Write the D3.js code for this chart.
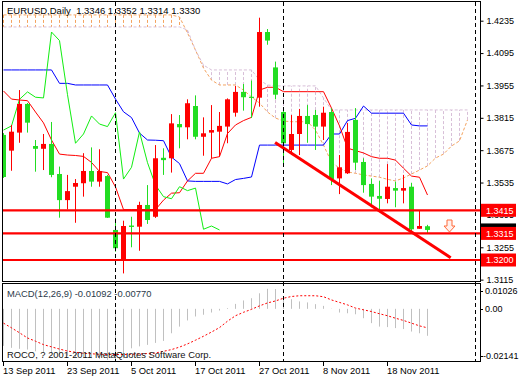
<!DOCTYPE html>
<html><head><meta charset="utf-8">
<script src="https://cdn.jsdelivr.net/npm/d3@7"></script>
<style>
body{margin:0;background:#fff}
svg{display:block}
text{font-family:"Liberation Sans",Arial,sans-serif;font-size:9px;fill:#000}
</style>
</head><body>
<svg id="c" width="520" height="380"></svg>
<script>
// ---------------- DATA ----------------
const title = "EURUSD,Daily";
const headerOHLC = [1.3346, 1.3352, 1.3314, 1.3330];
const opens  = [1.3741,1.3673,1.3751,1.3875,1.3693,1.3681,1.3702,1.3572,1.3459,1.3517,
                1.3532,1.3585,1.3539,1.3563,1.3330,1.3203,1.3349,1.3344,1.3438,1.3387,
                1.3642,1.3640,1.3788,1.3774,1.3866,1.3733,1.3751,1.3755,1.3777,1.3837,
                1.3927,1.3906,1.3902,1.4186,1.4033,1.3840,1.3676,1.3745,1.3823,1.3827,
                1.3777,1.3840,1.3553,1.3575,1.3806,1.3624,1.3529,1.3477,1.3464,1.3511,
                1.3500,1.3517,1.3335,1.3346];
const highs  = [1.3749,1.3784,1.3935,1.3879,1.3719,1.3745,1.3797,1.3604,1.3568,1.3550,
                1.3662,1.3687,1.3679,1.3568,1.3380,1.3370,1.3387,1.3452,1.3524,1.3697,
                1.3683,1.3831,1.3827,1.3895,1.3912,1.3817,1.3870,1.3840,1.3899,1.3953,
                1.3961,1.3976,1.4248,1.4199,1.4058,1.3854,1.3827,1.3853,1.3870,1.3849,
                1.3863,1.3856,1.3654,1.3793,1.3857,1.3640,1.3553,1.3543,1.3615,1.3539,
                1.3568,1.3534,1.3416,1.3352];
const lows   = [1.3555,1.3586,1.3707,1.3751,1.3582,1.3589,1.3558,1.3383,1.3419,1.3361,
                1.3474,1.3517,1.3517,1.3382,1.3236,1.3142,1.3255,1.3240,1.3356,1.3382,
                1.3568,1.3578,1.3683,1.3722,1.3722,1.3651,1.3640,1.3647,1.3705,1.3820,
                1.3846,1.3814,1.3863,1.4131,1.3895,1.3604,1.3654,1.3654,1.3707,1.3676,
                1.3719,1.3524,1.3485,1.3572,1.3589,1.3491,1.3428,1.3416,1.3445,1.3428,
                1.3445,1.3318,1.3335,1.3314];
const closes = [1.3559,1.3755,1.3875,1.3794,1.3681,1.3702,1.3568,1.3459,1.3498,1.3533,
                1.3585,1.3539,1.3585,1.3383,1.3251,1.3347,1.3343,1.3438,1.3373,1.3640,
                1.3632,1.3791,1.3774,1.3878,1.3733,1.3748,1.3762,1.3780,1.3895,1.3927,
                1.3904,1.3901,1.4186,1.4149,1.3915,1.3705,1.3745,1.3823,1.3788,1.3777,
                1.3837,1.3550,1.3601,1.3754,1.3621,1.3524,1.3474,1.3465,1.3517,1.3500,
                1.3511,1.3333,1.3347,1.3330];
// Ichimoku
const tenkan = [1.3931,1.3896,1.3892,1.3889,1.3840,1.3793,1.3719,1.3658,1.3654,1.3652,
                1.3648,1.3622,1.3583,1.3578,1.3516,1.3418,1.3418,1.3418,1.3418,1.3418,
                1.3459,1.3489,1.3491,1.3542,1.3575,1.3575,1.3640,1.3647,1.3747,1.3784,
                1.3803,1.3817,1.3935,1.3947,1.3947,1.3928,1.3928,1.3928,1.3928,1.3928,
                1.3928,1.3857,1.3780,1.3684,1.3673,1.3663,1.3647,1.3640,1.3640,1.3632,
                1.3597,1.3563,1.3558,1.3481];
const kijun  = [1.4022,1.4022,1.4022,1.4022,1.4022,1.4022,1.4022,1.3964,1.3964,1.3957,
                1.3957,1.3957,1.3957,1.3957,1.3896,1.3841,1.3816,1.3749,1.3719,1.3718,
                1.3716,1.3645,1.3617,1.3542,1.3540,1.3540,1.3540,1.3540,1.3529,1.3548,
                1.3553,1.3559,1.3697,1.3697,1.3697,1.3697,1.3697,1.3697,1.3697,1.3697,
                1.3697,1.3745,1.3745,1.3803,1.3813,1.3866,1.3835,1.3835,1.3835,1.3835,
                1.3835,1.3784,1.3780,1.3780];
const chikou = [1.3762,1.3780,1.3895,1.3927,1.3904,1.3901,1.4186,1.4149,1.3915,1.3705,
                1.3745,1.3823,1.3788,1.3777,1.3837,1.3550,1.3601,1.3754,1.3621,1.3524,
                1.3474,1.3465,1.3517,1.3500,1.3511,1.3333,1.3347,1.3330];
const spanA  = [1.4260,1.4260,1.4260,1.4260,1.4260,1.4260,1.4260,1.4260,1.4260,1.4260,
                1.4260,1.4260,1.4260,1.4260,1.4260,1.4260,1.4260,1.4260,1.4260,1.4260,
                1.4260,1.4260,1.4251,1.4182,1.4108,1.4030,1.3978,1.3957,1.3957,1.3957,
                1.3935,1.3905,1.3879,1.3840,1.3814,1.3801,1.3798,1.3798,1.3798,1.3762,
                1.3697,1.3623,1.3597,1.3581,1.3575,1.3568,1.3563,1.3558,1.3549,1.3542,
                1.3555,1.3572,1.3589,1.3607,1.3641,1.3658,1.3693,1.3715,1.3806];
const spanB  = [1.4208,1.4208,1.4208,1.4208,1.4208,1.4208,1.4208,1.4208,1.4208,1.4208,
                1.4208,1.4208,1.4208,1.4208,1.4208,1.4208,1.4208,1.4208,1.4208,1.4208,
                1.4208,1.4208,1.4208,1.4195,1.4108,1.4043,1.4022,1.4022,1.4022,1.4022,
                1.4022,1.4022,1.3978,1.3957,1.3953,1.3953,1.3953,1.3953,1.3953,1.3953,
                1.3901,1.3849,1.3849,1.3849,1.3849,1.3849,1.3849,1.3849,1.3849,1.3849,
                1.3849,1.3849,1.3849,1.3849,1.3849,1.3849,1.3849,1.3849,1.3849];
// MACD(12,26,9)
const macdHist = [-0.0150,-0.0158,-0.0162,-0.0165,-0.0172,-0.0178,-0.0182,-0.0186,-0.0190,-0.0195,
                  -0.0198,-0.0200,-0.0203,-0.0207,-0.0214,-0.0200,-0.0160,-0.0152,-0.0146,-0.0138,
                  -0.0130,-0.0099,-0.0072,-0.0047,-0.0031,-0.0024,-0.0015,-0.0007,0.0003,0.0020,
                  0.0034,0.0043,0.0063,0.0081,0.0080,0.0050,0.0039,0.0030,0.0026,0.0019,
                  0.0012,0.0001,-0.0015,-0.0018,-0.0022,-0.0038,-0.0058,-0.0072,-0.0074,-0.0078,
                  -0.0082,-0.0092,-0.0099,-0.01092];
const macdSignal = [-0.0058,-0.0077,-0.0097,-0.0118,-0.0131,-0.0145,-0.0154,-0.0163,-0.0171,-0.0176,
                    -0.0180,-0.0182,-0.0184,-0.0185,-0.0185,-0.0185,-0.0184,-0.0183,-0.0181,-0.0179,
                    -0.0172,-0.0165,-0.0155,-0.0142,-0.0127,-0.0111,-0.0094,-0.0076,-0.0050,-0.0028,
                    -0.0014,-0.0002,0.0012,0.0024,0.0032,0.0043,0.0050,0.0053,0.0053,0.0053,
                    0.0049,0.0036,0.0026,0.0016,0.0003,-0.0004,-0.0011,-0.0020,-0.0028,-0.0038,
                    -0.0047,-0.0058,-0.0069,-0.0077];
const macdLabel = "MACD(12,26,9) -0.01092 -0.00770";
const macdScaleMax = 0.01026, macdScaleMin = -0.02141;
const macdTickLabels = ["0.01026", "0.00", "-0.02141"];
const macdTickValues = [0.01026, 0, -0.02141];
// axes
const priceTicks = [1.4235,1.4095,1.3955,1.3815,1.3675,1.3535,1.3395,1.3255,1.3115];
const dateLabels = ["13 Sep 2011","23 Sep 2011","5 Oct 2011","17 Oct 2011","27 Oct 2011","8 Nov 2011","18 Nov 2011"];
const dateLabelIdx = [0,8,16,24,32,40,48];
const separatorIdx = [14,35,59];
// objects
const levels = [1.3415, 1.3315, 1.3200];
const levelLabels = ["1.3415","1.3315","1.3200"];
const trendLine = [{i:33.95, p:1.3708}, {i:55.9, p:1.3210}];
const sellArrow = {i:55.75, p:1.3347};
const copyright = "ROCO, ? 2001-2011 MetaQuotes Software Corp.";

// ---------------- DRAW ----------------
const svg = d3.select("#c");
const x = d3.scaleLinear().domain([0,53]).range([3.5,427.5]);
const y = d3.scaleLinear().domain([1.3200,1.4235]).range([260,20.7]);
const ym = d3.scaleLinear().domain([macdScaleMin, macdScaleMax]).range([361.7,283.5]);

const defs = svg.append("defs");
defs.append("clipPath").attr("id","cm").append("rect").attr("x",2).attr("y",2).attr("width",478).attr("height",279);
defs.append("clipPath").attr("id","cd").append("rect").attr("x",2).attr("y",284).attr("width",478).attr("height",77.5);

const gm = svg.append("g").attr("clip-path","url(#cm)");

// cloud hatch
gm.append("g").selectAll("line").data(spanA).join("line")
  .attr("x1",(d,i)=>x(i)).attr("x2",(d,i)=>x(i))
  .attr("y1",d=>y(d)).attr("y2",(d,i)=>y(spanB[i]))
  .attr("stroke",(d,i)=> d>spanB[i] ? "#f4a460" : "#d8bfd8")
  .attr("stroke-width",1).attr("stroke-dasharray","3,2");

const line = d3.line().x((d,i)=>x(i)).y(d=>y(d));
gm.append("path").datum(spanA).attr("d",line).attr("fill","none")
  .attr("stroke","#f4a460").attr("stroke-dasharray","3,2");
gm.append("path").datum(spanB).attr("d",line).attr("fill","none")
  .attr("stroke","#d8bfd8").attr("stroke-dasharray","3,2");
gm.append("path").datum(kijun).attr("d",line).attr("fill","none").attr("stroke","#0000ff");
gm.append("path").datum(tenkan).attr("d",line).attr("fill","none").attr("stroke","#ff0000");
gm.append("path").datum(chikou).attr("d",line).attr("fill","none").attr("stroke","#11ee11");

// candles
const bull = "#ff0000", bear = "#22dd22";
const cg = gm.append("g");
cg.selectAll("line").data(closes).join("line")
  .attr("x1",(d,i)=>x(i)).attr("x2",(d,i)=>x(i))
  .attr("y1",(d,i)=>y(highs[i])).attr("y2",(d,i)=>y(lows[i]))
  .attr("stroke",(d,i)=> d>=opens[i]?bull:bear);
cg.selectAll("rect").data(closes).join("rect")
  .attr("x",(d,i)=>x(i)-2.5).attr("width",5)
  .attr("y",(d,i)=>y(Math.max(d,opens[i])))
  .attr("height",(d,i)=>Math.max(1,Math.abs(y(d)-y(opens[i]))))
  .attr("fill",(d,i)=> d>=opens[i]?bull:bear);

// levels
gm.append("g").selectAll("line").data(levels).join("line")
  .attr("x1",2).attr("x2",480).attr("y1",d=>y(d)).attr("y2",d=>y(d))
  .attr("stroke","#ff0000").attr("stroke-width",2.2);
// trendline
gm.append("line")
  .attr("x1",x(trendLine[0].i)).attr("y1",y(trendLine[0].p))
  .attr("x2",x(trendLine[1].i)).attr("y2",y(trendLine[1].p))
  .attr("stroke","#ff0000").attr("stroke-width",3);
// sell arrow
const ax = x(sellArrow.i), ay = y(sellArrow.p);
gm.append("path")
  .attr("d",`M${ax-2.5},${ay-6}H${ax+2.5}V${ay}H${ax+5.5}L${ax},${ay+6}L${ax-5.5},${ay}H${ax-2.5}Z`)
  .attr("fill","#fff0ec").attr("stroke","#ff6a3a").attr("stroke-width",1);

// MACD
const gd = svg.append("g").attr("clip-path","url(#cd)");
gd.selectAll("line").data(macdHist).join("line")
  .attr("x1",(d,i)=>x(i)).attr("x2",(d,i)=>x(i))
  .attr("y1",ym(0)).attr("y2",d=>ym(d))
  .attr("stroke","#c0c0c0").attr("stroke-width",1);
gd.append("path").datum(macdSignal)
  .attr("d",d3.line().x((d,i)=>x(i)).y(d=>ym(d)))
  .attr("fill","none").attr("stroke","#ff0000").attr("stroke-dasharray","2,2");

// separators
svg.append("g").selectAll("line").data(separatorIdx).join("line")
  .attr("x1",d=>x(d)).attr("x2",d=>x(d)).attr("y1",2).attr("y2",362)
  .attr("stroke","#000").attr("stroke-dasharray","4,3");

// borders
svg.append("rect").attr("x",2.5).attr("y",1.5).attr("width",478).attr("height",280)
  .attr("fill","none").attr("stroke","#000");
svg.append("rect").attr("x",2.5).attr("y",283.5).attr("width",478).attr("height",78)
  .attr("fill","none").attr("stroke","#000");

// price axis
const ag = svg.append("g").attr("transform","translate(480.5,0)")
  .call(d3.axisRight(y).tickValues(priceTicks).tickSize(3).tickPadding(3).tickFormat(d3.format(".4f")));
ag.select(".domain").remove();
ag.selectAll("line").attr("stroke","#000");
ag.selectAll("text").attr("font-family",null).attr("font-size",null).attr("fill","#000");

// current price box (black, mostly hidden) and level boxes
const cp = headerOHLC[3];
svg.append("rect").attr("x",481).attr("y",y(cp)-6.5).attr("width",35).attr("height",13).attr("fill","#000");
const lb = svg.append("g").selectAll("g").data(levels).join("g");
lb.append("rect").attr("x",481).attr("y",d=>y(d)-6.5).attr("width",35).attr("height",13).attr("fill","#ff0000");
lb.append("text").attr("x",486).attr("y",d=>y(d)+3.3).style("fill","#fff").text((d,i)=>levelLabels[i]);

// MACD axis
const mt = svg.append("g").selectAll("g").data(macdTickValues).join("g");
mt.append("text").attr("x",(d,i)=> d<0?483:485)
  .attr("y",d=>Math.min(Math.max(ym(d),290.7),356)+3.3)
  .text((d,i)=>macdTickLabels[i]);
mt.append("line").attr("x1",480).attr("x2",483)
  .attr("y1",d=>Math.round(Math.min(Math.max(ym(d),290.7),356))+0.5)
  .attr("y2",d=>Math.round(Math.min(Math.max(ym(d),290.7),356))+0.5).attr("stroke","#000");

// dates
const dg = svg.append("g").selectAll("g").data(dateLabelIdx).join("g");
dg.append("line").attr("x1",d=>x(d)).attr("x2",d=>x(d)).attr("y1",362).attr("y2",366).attr("stroke","#000");
dg.append("text").attr("x",d=>x(d)-0.5).attr("y",374).style("font-size","9.4px").text((d,i)=>dateLabels[i]);

// titles
svg.append("text").attr("x",7).attr("y",14).style("font-size","9.5px").attr("xml:space","preserve")
  .text(title + "  " + headerOHLC.map(d3.format(".4f")).join(" "));
svg.append("text").attr("x",7).attr("y",296.5).style("font-size","9.4px").style("fill","#2b3a4a").text(macdLabel);
svg.append("text").attr("x",7).attr("y",358).style("font-size","9.4px").style("fill","#111").text(copyright);
</script>
</body></html>
